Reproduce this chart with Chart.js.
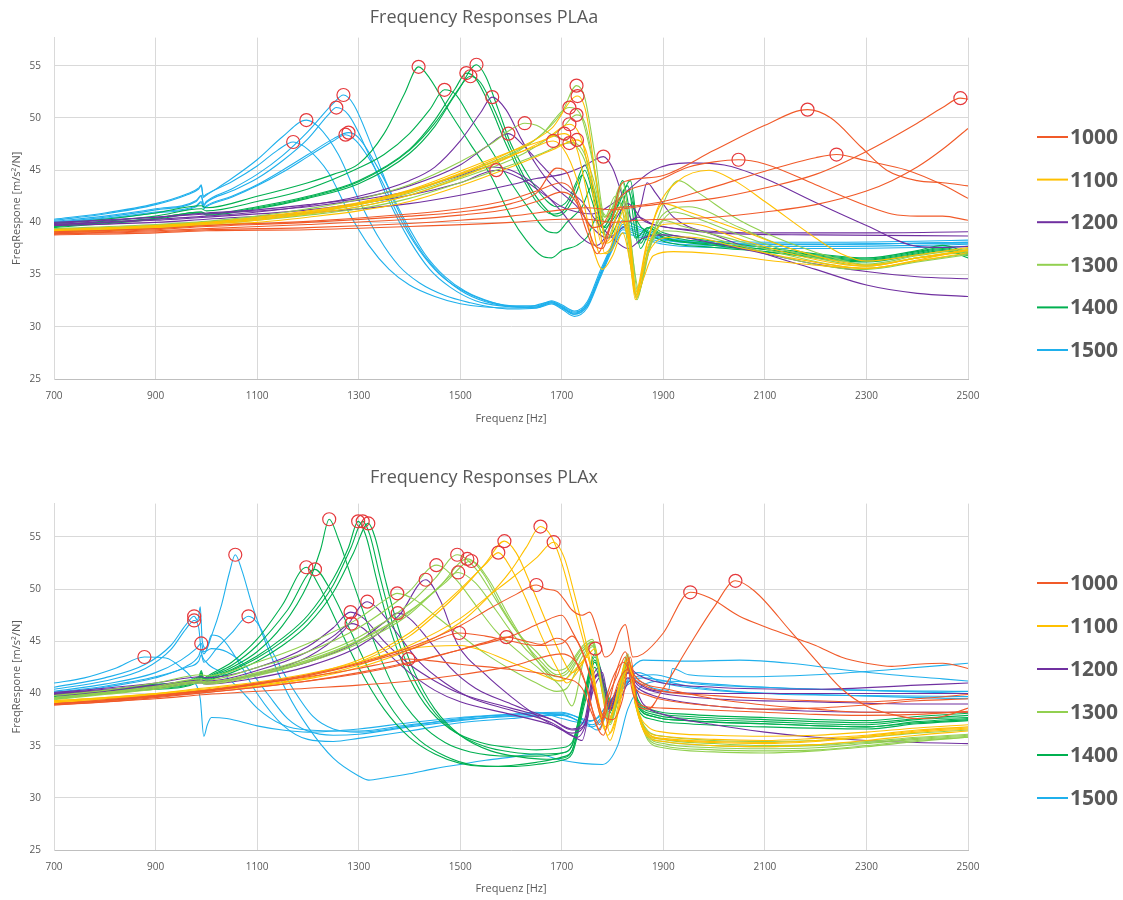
<!DOCTYPE html>
<html lang="de">
<head>
<meta charset="UTF-8">
<title>Frequency Responses PLAa / PLAx</title>
<script src="https://cdn.jsdelivr.net/npm/chart.js"></script>
<style>
  body { margin: 0; background: #fff; }
  .box { position: absolute; left: 0; width: 1123px; }
  #boxA { top: 0; height: 430px; }
  #boxB { top: 460px; height: 440px; }
</style>
</head>
<body>
<div class="box" id="boxA"><canvas id="chartA"></canvas></div>
<div class="box" id="boxB"><canvas id="chartB"></canvas></div>

<script>
// series names + Excel style colours
const seriesLabels = ['1000', '1100', '1200', '1300', '1400', '1500'];
const seriesColors = ['#F15A29', '#FFC000', '#7030A0', '#92D050', '#00B050', '#1FB0EC'];
const freqTicks = [700, 900, 1100, 1300, 1500, 1700, 1900, 2100, 2300, 2500];

// ---------- PLAa : [Hz, m/s²/N] ----------
const plaa1000 = [
  [[700,38.9],[900,39.1],[1000,39.3],[1200,39.5],[1400,39.9],[1500,40.2],[1600,40.6],[1700,41.2],[1750,41.4],[1800,41.2],[1850,41.5],[1900,41.8],[2000,42.3],[2100,43.3],[2200,44.6],[2300,46.8],[2400,49.5],[2450,51.0],[2485,51.9],[2500,51.8]],
  [[700,38.8],[900,39.0],[1000,39.2],[1200,39.3],[1400,39.6],[1600,40.0],[1700,40.3],[1750,40.3],[1800,40.0],[1850,40.2],[1900,40.3],[2000,40.5],[2100,41.0],[2200,41.7],[2300,43.0],[2350,44.0],[2400,45.3],[2450,47.0],[2500,49.0]],
  [[700,39.1],[900,39.4],[1000,39.7],[1200,40.1],[1400,40.8],[1500,41.3],[1600,42.2],[1650,43.0],[1700,43.8],[1725,42.8],[1745,40.5],[1765,37.8],[1780,37.5],[1800,40.5],[1815,43.5],[1830,44.0],[1900,44.5],[2000,46.9],[2100,49.3],[2184,50.8],[2230,50.0],[2290,47.2],[2340,45.0],[2400,44.0],[2450,43.8],[2500,43.5]],
  [[700,39.0],[900,39.3],[1000,39.6],[1200,40.0],[1400,40.6],[1500,41.0],[1600,41.8],[1650,42.8],[1690,45.2],[1710,44.8],[1730,42.0],[1750,39.0],[1770,37.0],[1790,39.0],[1810,42.0],[1830,43.0],[1880,43.8],[1950,45.3],[2000,45.8],[2048,46.0],[2100,45.6],[2200,43.6],[2300,41.6],[2350,40.8],[2400,40.6],[2450,40.6],[2500,40.2]],
  [[700,38.9],[900,39.2],[1000,39.4],[1200,39.8],[1400,40.3],[1500,40.7],[1600,41.3],[1650,42.0],[1700,42.9],[1720,42.5],[1740,41.0],[1760,39.5],[1780,39.8],[1800,41.2],[1830,41.5],[1900,42.0],[2000,43.4],[2100,44.9],[2200,46.2],[2241,46.5],[2300,45.9],[2380,45.0],[2450,43.6],[2500,42.3]]
];
const plaa1100 = [
  [[700,39.2],[900,39.6],[1000,39.9],[1100,40.3],[1200,40.9],[1300,41.7],[1400,42.9],[1500,44.6],[1600,46.4],[1650,47.3],[1683,47.8],[1710,46.5],[1740,42.5],[1765,37.0],[1780,35.5],[1800,36.8],[1820,39.0],[1835,36.0],[1845,32.6],[1860,34.5],[1880,36.8],[1920,37.2],[2000,37.0],[2100,36.4],[2200,35.9],[2300,35.6],[2400,36.4],[2500,37.4]],
  [[700,39.3],[900,39.7],[1000,40.0],[1100,40.5],[1200,41.1],[1300,41.9],[1400,43.1],[1500,44.9],[1600,46.8],[1660,47.8],[1705,48.5],[1730,47.0],[1755,41.5],[1775,37.0],[1795,37.5],[1815,40.5],[1832,38.0],[1845,33.2],[1865,37.5],[1890,41.5],[1930,44.0],[1990,45.0],[2040,44.0],[2100,42.0],[2200,38.5],[2250,37.0],[2300,36.3],[2400,36.9],[2500,37.6]],
  [[700,39.1],[900,39.5],[1000,39.8],[1100,40.2],[1200,40.8],[1300,41.5],[1400,42.6],[1500,44.3],[1600,46.3],[1670,48.0],[1715,49.4],[1740,47.8],[1760,43.0],[1778,38.0],[1795,38.5],[1815,41.5],[1832,38.5],[1846,33.0],[1868,38.0],[1900,41.8],[1950,41.0],[2050,39.3],[2150,37.5],[2250,36.2],[2300,35.9],[2400,36.6],[2500,37.3]],
  [[700,39.0],[900,39.4],[1000,39.7],[1100,40.0],[1200,40.5],[1300,41.1],[1400,42.0],[1500,43.5],[1600,45.3],[1680,46.9],[1730,47.9],[1750,46.5],[1770,41.0],[1785,37.0],[1800,37.5],[1820,40.0],[1835,37.5],[1847,33.4],[1870,37.0],[1900,38.5],[1950,38.6],[2050,37.6],[2150,36.6],[2250,35.8],[2300,35.6],[2400,36.3],[2500,37.1]],
  [[700,39.2],[900,39.6],[1000,39.9],[1100,40.4],[1200,41.0],[1300,41.8],[1400,43.0],[1500,44.7],[1600,46.8],[1680,49.0],[1731,52.1],[1748,50.5],[1768,44.0],[1788,38.0],[1805,38.8],[1822,41.2],[1836,37.8],[1846,32.8],[1866,37.2],[1900,39.8],[1950,39.9],[2050,38.4],[2150,37.0],[2250,36.0],[2300,35.8],[2400,36.6],[2500,37.4]]
];
const plaa1200 = [
  [[700,39.8],[900,40.3],[1000,40.6],[1100,41.0],[1200,41.6],[1300,42.5],[1400,44.0],[1450,45.3],[1500,47.8],[1540,50.5],[1563,52.0],[1590,50.8],[1620,48.0],[1650,45.5],[1680,43.6],[1700,42.8],[1730,41.5],[1760,39.5],[1790,38.5],[1820,39.5],[1850,40.5],[1880,39.8],[1950,39.3],[2100,39.0],[2300,39.0],[2500,39.1]],
  [[700,39.9],[900,40.5],[1000,40.9],[1100,41.2],[1200,41.7],[1300,42.3],[1400,43.5],[1500,45.5],[1550,47.2],[1595,48.5],[1620,47.6],[1660,45.5],[1700,43.5],[1740,42.0],[1770,40.0],[1800,38.5],[1830,37.5],[1860,38.5],[1900,38.8],[2000,38.0],[2100,37.0],[2200,36.0],[2300,35.3],[2400,34.8],[2500,34.6]],
  [[700,39.7],[900,40.0],[1000,40.3],[1200,40.9],[1400,41.8],[1500,42.6],[1600,43.6],[1650,44.2],[1700,44.6],[1740,45.3],[1765,46.0],[1782,46.3],[1800,45.2],[1820,42.5],[1840,40.2],[1855,41.5],[1868,43.8],[1885,42.8],[1920,40.5],[2000,38.8],[2100,37.0],[2200,35.5],[2300,34.0],[2400,33.2],[2500,32.9]],
  [[700,39.8],[900,40.2],[1000,40.5],[1200,41.2],[1400,42.6],[1500,43.8],[1571,45.0],[1620,44.2],[1670,42.5],[1700,41.5],[1730,41.0],[1760,40.8],[1800,41.8],[1840,43.5],[1880,45.0],[1950,45.7],[2020,45.5],[2100,44.2],[2200,41.9],[2300,39.7],[2400,37.7],[2450,37.6],[2500,37.7]],
  [[700,40.0],[900,40.5],[1000,40.8],[1200,41.5],[1400,43.0],[1500,44.5],[1560,45.3],[1600,45.0],[1650,43.5],[1700,41.0],[1740,38.5],[1770,37.8],[1800,39.8],[1830,41.8],[1860,40.2],[1900,39.6],[2000,39.0],[2200,38.8],[2500,38.7]]
];
const plaa1300 = [
  [[700,39.4],[900,39.8],[1000,40.1],[1100,40.6],[1200,41.3],[1300,42.2],[1400,43.6],[1500,45.8],[1560,47.5],[1600,48.9],[1627,49.5],[1650,49.3],[1680,48.4],[1710,47.8],[1740,47.0],[1760,44.5],[1785,40.5],[1805,42.5],[1820,41.0],[1835,36.0],[1848,32.6],[1865,36.0],[1890,40.5],[1930,44.0],[1970,42.8],[2050,40.2],[2150,38.0],[2250,36.4],[2300,35.9],[2400,36.6],[2500,37.3]],
  [[700,39.3],[900,39.7],[1000,40.0],[1100,40.5],[1200,41.0],[1300,41.8],[1400,43.0],[1500,44.6],[1600,46.6],[1650,48.0],[1700,50.5],[1729,53.1],[1745,52.0],[1765,46.5],[1785,40.5],[1800,41.5],[1815,43.5],[1830,39.0],[1845,33.0],[1865,36.5],[1890,39.5],[1920,41.0],[1960,40.5],[2050,38.8],[2150,37.2],[2250,36.1],[2300,35.8],[2400,36.6],[2500,37.2]],
  [[700,39.2],[900,39.6],[1000,39.9],[1100,40.3],[1200,40.8],[1300,41.5],[1400,42.6],[1500,44.2],[1600,46.0],[1650,47.3],[1700,49.0],[1729,50.3],[1745,49.6],[1765,45.0],[1785,40.0],[1805,41.8],[1820,42.5],[1835,38.0],[1848,32.8],[1870,37.0],[1900,40.2],[1940,39.6],[2050,38.2],[2150,36.8],[2250,35.8],[2300,35.6],[2400,36.3],[2500,37.0]],
  [[700,39.3],[900,39.7],[1000,40.0],[1100,40.4],[1200,40.9],[1300,41.7],[1400,42.8],[1500,44.4],[1600,46.4],[1660,48.4],[1715,51.0],[1735,50.5],[1760,46.0],[1780,41.0],[1800,40.5],[1820,43.8],[1838,37.5],[1850,33.2],[1870,37.5],[1900,40.8],[1950,41.5],[2050,39.5],[2150,37.5],[2250,36.3],[2300,36.0],[2400,36.8],[2500,37.5]],
  [[700,39.1],[900,39.5],[1000,39.8],[1100,40.2],[1200,40.7],[1300,41.3],[1400,42.3],[1500,43.8],[1600,45.5],[1660,46.6],[1715,47.6],[1740,46.5],[1765,43.0],[1790,38.5],[1810,41.0],[1825,42.0],[1840,36.5],[1852,33.5],[1875,37.8],[1900,39.2],[1950,39.0],[2050,37.8],[2150,36.5],[2250,35.6],[2300,35.5],[2400,36.2],[2500,36.9]]
];
const plaa1400 = [
  [[700,39.9],[800,40.3],[900,40.9],[990,41.6],[1000,41.4],[1100,42.5],[1200,43.8],[1250,44.6],[1300,45.6],[1350,48.5],[1390,52.3],[1418,54.9],[1440,53.8],[1480,50.5],[1520,47.5],[1560,44.5],[1600,40.5],[1630,38.3],[1660,36.8],[1680,36.6],[1700,37.3],[1730,37.8],[1750,38.6],[1770,40.5],[1790,38.5],[1810,40.0],[1830,43.0],[1850,40.0],[1870,39.0],[1900,38.2],[2000,37.6],[2100,37.2],[2200,36.7],[2300,36.3],[2400,37.0],[2450,37.4],[2500,36.6]],
  [[700,39.7],[900,40.6],[990,41.3],[1000,41.1],[1100,42.0],[1200,43.2],[1300,45.2],[1350,46.5],[1400,48.5],[1440,50.8],[1469,52.7],[1490,52.3],[1520,50.0],[1560,47.0],[1600,43.8],[1640,41.0],[1670,39.2],[1690,39.0],[1710,40.0],[1740,41.5],[1760,43.5],[1780,39.5],[1800,41.0],[1820,44.0],[1845,38.5],[1870,39.5],[1900,38.6],[2000,37.9],[2100,37.4],[2200,36.8],[2300,36.4],[2400,37.1],[2450,37.5],[2500,36.9]],
  [[700,39.6],[900,40.4],[990,41.0],[1000,40.8],[1100,41.5],[1200,42.5],[1300,44.0],[1400,47.0],[1450,49.8],[1490,52.8],[1512,54.3],[1530,53.8],[1560,51.0],[1590,47.5],[1620,44.5],[1650,42.0],[1680,40.8],[1700,41.0],[1720,42.5],[1740,44.5],[1760,42.0],[1780,39.0],[1800,40.5],[1830,43.5],[1850,38.0],[1870,39.5],[1900,38.8],[2000,38.0],[2100,37.4],[2200,36.9],[2300,36.5],[2400,37.2],[2450,37.6],[2500,37.0]],
  [[700,39.5],[900,40.3],[990,40.9],[1000,40.7],[1100,41.3],[1200,42.3],[1300,43.7],[1400,46.6],[1450,49.2],[1490,52.2],[1520,54.0],[1540,53.4],[1570,50.5],[1600,47.0],[1630,44.0],[1660,41.8],[1690,40.6],[1710,41.2],[1730,43.0],[1745,45.0],[1765,42.0],[1785,39.5],[1810,41.0],[1835,43.2],[1855,37.5],[1875,39.2],[1900,38.5],[2000,37.8],[2100,37.2],[2200,36.6],[2300,36.2],[2400,36.9],[2450,37.3],[2500,36.8]],
  [[700,39.6],[900,40.4],[990,41.0],[1000,40.8],[1100,41.4],[1200,42.4],[1300,43.9],[1400,46.9],[1450,49.5],[1500,53.0],[1532,55.1],[1550,54.0],[1575,50.8],[1600,47.5],[1630,44.8],[1660,42.6],[1690,41.5],[1710,42.0],[1730,44.0],[1745,45.5],[1765,42.5],[1785,40.0],[1810,41.5],[1835,44.0],[1855,38.0],[1875,39.6],[1900,39.0],[2000,38.2],[2100,37.6],[2200,37.0],[2300,36.6],[2400,37.3],[2450,37.8],[2500,37.1]]
];
const plaa1500 = [
  [[700,40.3],[800,40.9],[900,41.8],[960,42.7],[985,43.3],[990,43.6],[994,42.5],[1000,42.7],[1050,43.9],[1100,45.4],[1140,46.9],[1171,47.7],[1200,47.0],[1240,44.8],[1280,41.0],[1320,37.8],[1360,35.5],[1400,34.0],[1450,32.9],[1500,32.2],[1550,31.9],[1600,31.8],[1650,31.9],[1680,32.4],[1700,31.9],[1725,31.3],[1750,32.2],[1775,35.0],[1800,37.8],[1820,39.6],[1850,39.2],[1900,38.4],[2000,38.0],[2200,37.9],[2400,38.0],[2500,38.1]],
  [[700,40.2],[800,40.8],[900,41.7],[960,42.6],[985,43.2],[990,43.5],[994,42.4],[1000,42.6],[1050,44.2],[1100,46.0],[1150,48.2],[1197,49.8],[1220,49.2],[1260,46.5],[1300,42.2],[1340,38.5],[1380,35.8],[1420,34.2],[1470,33.0],[1520,32.3],[1560,31.9],[1600,31.7],[1650,31.8],[1680,32.3],[1700,31.8],[1725,31.2],[1750,32.0],[1775,34.8],[1800,37.6],[1820,39.3],[1850,38.8],[1900,38.1],[2000,37.8],[2200,37.7],[2400,37.8],[2500,37.9]],
  [[700,40.0],[800,40.5],[900,41.2],[980,42.0],[990,42.5],[995,41.6],[1000,41.9],[1050,43.0],[1100,44.2],[1150,45.9],[1200,48.0],[1240,50.3],[1256,51.0],[1280,50.3],[1320,46.5],[1360,42.0],[1400,38.3],[1440,35.5],[1480,33.8],[1530,32.5],[1580,32.0],[1630,31.9],[1680,32.4],[1700,32.0],[1725,31.4],[1750,32.2],[1775,35.0],[1800,37.9],[1820,39.8],[1850,39.4],[1900,38.5],[2000,38.2],[2200,38.1],[2400,38.2],[2500,38.3]],
  [[700,40.1],[800,40.6],[900,41.3],[980,42.1],[990,42.6],[995,41.7],[1000,42.0],[1050,43.2],[1100,44.6],[1150,46.4],[1200,48.7],[1250,51.4],[1270,52.2],[1290,51.3],[1330,46.8],[1370,42.0],[1410,38.2],[1450,35.6],[1500,33.5],[1550,32.4],[1600,32.0],[1650,32.0],[1680,32.5],[1700,32.1],[1725,31.5],[1750,32.4],[1775,35.3],[1800,38.0],[1820,40.2],[1850,39.6],[1900,38.6],[2000,38.0],[2200,37.9],[2400,38.0],[2500,38.1]],
  [[700,39.9],[800,40.3],[900,40.9],[980,41.5],[990,41.9],[995,41.3],[1000,41.5],[1050,42.4],[1100,43.5],[1150,44.8],[1200,46.3],[1250,47.8],[1274,48.4],[1295,47.8],[1340,44.5],[1380,40.5],[1420,37.3],[1460,35.0],[1500,33.6],[1550,32.5],[1600,32.0],[1650,31.8],[1680,32.2],[1700,31.7],[1725,31.0],[1750,31.8],[1775,34.6],[1800,37.4],[1820,39.0],[1850,38.6],[1900,37.9],[2000,37.6],[2200,37.5],[2400,37.6],[2500,37.7]],
  [[700,40.0],[800,40.4],[900,41.0],[980,41.6],[990,42.0],[995,41.4],[1000,41.6],[1050,42.5],[1100,43.6],[1150,45.0],[1200,46.5],[1250,48.0],[1280,48.6],[1300,48.1],[1345,44.6],[1390,40.3],[1430,37.0],[1470,34.8],[1510,33.4],[1560,32.4],[1610,31.9],[1650,31.9],[1680,32.3],[1700,31.9],[1725,31.2],[1750,32.0],[1775,34.8],[1800,37.6],[1820,39.5],[1850,39.0],[1900,38.3],[2000,38.0],[2200,37.9],[2400,38.0],[2500,38.0]]
];
// marked resonance peaks
const plaaPeaks = [
  [1171,47.7],[1197,49.8],[1256,51.0],[1270,52.2],[1274,48.4],[1280,48.6],
  [1418,54.9],[1469,52.7],[1512,54.3],[1520,54.0],[1532,55.1],
  [1563,52.0],[1595,48.5],[1782,46.3],[1571,45.0],
  [1627,49.5],[1729,53.1],[1729,50.3],[1715,51.0],[1715,47.6],
  [1683,47.8],[1705,48.5],[1715,49.4],[1730,47.9],[1731,52.1],
  [2048,46.0],[2184,50.8],[2241,46.5],[2485,51.9]
];

// ---------- PLAx ----------
const plax1000 = [
  [[700,39.0],[800,39.4],[900,39.8],[1000,40.3],[1100,40.9],[1200,41.6],[1300,42.4],[1360,43.0],[1398,43.3],[1450,43.1],[1500,42.8],[1600,42.3],[1700,41.5],[1740,40.5],[1760,38.0],[1775,36.5],[1790,39.5],[1810,41.8],[1825,43.5],[1840,40.0],[1860,38.8],[1900,38.6],[2000,38.4],[2100,38.2],[2200,38.0],[2300,37.9],[2400,38.0],[2500,38.3]],
  [[700,39.0],[800,39.3],[900,39.7],[1000,40.2],[1100,40.9],[1200,41.7],[1300,42.8],[1400,44.2],[1450,45.1],[1498,45.8],[1550,45.5],[1600,45.0],[1650,44.6],[1700,44.8],[1720,45.5],[1745,43.5],[1765,40.0],[1780,37.5],[1795,39.5],[1810,42.5],[1825,44.0],[1840,42.0],[1860,41.0],[1900,40.5],[2000,39.5],[2100,38.9],[2200,38.5],[2300,38.2],[2400,38.2],[2500,38.2]],
  [[700,38.9],[800,39.2],[900,39.6],[1000,40.1],[1100,40.6],[1200,41.2],[1300,41.9],[1400,42.9],[1500,44.2],[1550,44.9],[1591,45.4],[1630,45.0],[1660,44.7],[1690,45.3],[1710,44.8],[1730,42.8],[1750,40.5],[1768,37.0],[1782,36.0],[1798,39.0],[1815,41.5],[1830,42.3],[1845,40.5],[1870,39.8],[1900,39.4],[2000,38.8],[2100,38.5],[2200,38.6],[2300,38.9],[2400,39.3],[2500,39.5]],
  [[700,39.0],[800,39.3],[900,39.8],[1000,40.3],[1100,41.0],[1200,41.8],[1300,42.9],[1400,44.4],[1500,46.5],[1560,48.2],[1610,49.5],[1650,50.4],[1670,50.0],[1690,49.8],[1705,49.0],[1720,48.0],[1740,47.5],[1755,47.8],[1770,46.0],[1785,43.5],[1800,44.0],[1815,46.0],[1825,46.6],[1840,43.5],[1860,43.8],[1900,45.8],[1953,49.7],[1990,49.2],[2050,47.4],[2100,46.4],[2150,45.5],[2200,44.6],[2250,43.5],[2300,42.9],[2350,42.6],[2400,42.8],[2450,42.9],[2500,42.4]],
  [[700,39.0],[800,39.3],[900,39.7],[1000,40.1],[1100,40.6],[1200,41.2],[1300,42.0],[1400,43.0],[1500,44.2],[1600,45.5],[1660,46.8],[1700,47.5],[1720,46.0],[1740,44.0],[1760,41.0],[1780,38.0],[1800,37.5],[1820,39.5],[1835,43.5],[1850,38.8],[1870,38.5],[1900,40.5],[1950,44.5],[2000,48.3],[2042,50.8],[2080,49.8],[2150,46.0],[2200,43.2],[2250,40.5],[2300,38.8],[2350,38.0],[2400,37.6],[2450,37.8],[2500,38.6]],
  [[700,38.9],[900,39.5],[1000,39.9],[1200,40.5],[1300,40.8],[1400,41.2],[1500,41.8],[1600,42.6],[1700,43.8],[1740,42.0],[1760,38.5],[1775,37.0],[1790,40.0],[1805,42.0],[1822,43.0],[1840,41.5],[1870,40.6],[1900,40.2],[2000,39.8],[2100,39.5],[2200,39.3],[2300,39.2],[2400,39.5],[2500,39.9]]
];
const plax1100 = [
  [[700,39.3],[800,39.6],[900,40.0],[990,40.4],[1100,41.0],[1200,41.8],[1300,43.2],[1400,45.8],[1450,47.8],[1500,50.0],[1550,52.4],[1575,53.5],[1600,52.0],[1630,49.0],[1660,45.5],[1690,42.5],[1710,41.0],[1730,42.0],[1750,43.5],[1770,39.0],[1785,36.5],[1800,38.0],[1815,41.0],[1830,43.2],[1845,39.0],[1865,36.2],[1900,35.6],[2000,35.3],[2100,35.2],[2200,35.4],[2300,35.8],[2400,36.3],[2500,36.6]],
  [[700,39.2],[800,39.5],[900,39.9],[990,40.3],[1100,40.9],[1200,41.7],[1300,43.0],[1400,45.5],[1450,47.5],[1500,49.8],[1550,52.5],[1587,54.6],[1610,53.5],[1640,50.3],[1670,46.8],[1700,43.5],[1720,42.0],[1740,42.8],[1755,44.0],[1770,39.5],[1785,36.8],[1800,38.3],[1815,41.3],[1830,43.4],[1845,39.2],[1865,36.5],[1900,35.9],[2000,35.6],[2100,35.5],[2200,35.7],[2300,36.0],[2400,36.5],[2500,36.8]],
  [[700,39.1],[800,39.4],[900,39.8],[990,40.2],[1100,40.7],[1200,41.4],[1300,42.5],[1400,44.2],[1500,46.8],[1550,49.0],[1600,51.8],[1630,54.0],[1658,56.0],[1680,55.0],[1700,52.5],[1720,49.0],[1740,45.5],[1760,42.0],[1775,38.5],[1790,36.0],[1805,37.5],[1818,40.8],[1832,43.0],[1847,38.8],[1866,36.0],[1900,35.4],[2000,35.0],[2100,34.9],[2200,35.1],[2300,35.5],[2400,36.0],[2500,36.4]],
  [[700,39.2],[800,39.5],[900,39.9],[990,40.3],[1100,40.8],[1200,41.5],[1300,42.7],[1400,44.6],[1500,47.2],[1560,49.5],[1600,51.0],[1650,53.0],[1684,54.5],[1705,53.0],[1725,49.5],[1745,45.5],[1765,41.0],[1780,37.5],[1795,35.5],[1808,37.5],[1820,41.0],[1834,43.0],[1848,38.5],[1868,36.2],[1900,35.7],[2000,35.4],[2100,35.3],[2200,35.5],[2300,35.9],[2400,36.4],[2500,36.7]],
  [[700,39.3],[800,39.6],[900,40.0],[990,40.5],[1100,41.1],[1200,41.9],[1300,43.0],[1400,44.3],[1500,44.6],[1550,44.0],[1600,43.0],[1650,42.0],[1700,41.2],[1730,42.5],[1750,43.6],[1766,44.3],[1780,40.0],[1795,36.2],[1810,38.0],[1825,41.5],[1835,42.8],[1850,38.5],[1870,36.8],[1900,36.3],[2000,36.0],[2100,35.9],[2200,36.0],[2300,36.3],[2400,36.7],[2500,37.0]]
];
const plax1200 = [
  [[700,40.1],[800,40.5],[900,41.0],[990,41.6],[1000,41.5],[1100,42.5],[1200,44.5],[1250,46.3],[1284,47.8],[1310,47.2],[1350,45.0],[1400,42.8],[1450,41.2],[1500,40.0],[1600,38.6],[1680,37.5],[1720,36.6],[1745,37.5],[1760,41.5],[1775,42.5],[1790,39.0],[1810,40.5],[1830,42.5],[1850,41.8],[1880,41.2],[2000,40.6],[2200,40.4],[2400,40.8],[2500,41.0]],
  [[700,40.0],[800,40.4],[900,40.8],[990,41.3],[1000,41.2],[1100,42.2],[1200,44.0],[1250,45.5],[1286,46.7],[1310,46.2],[1350,44.2],[1400,42.0],[1450,40.3],[1500,39.2],[1600,38.0],[1680,37.0],[1720,36.2],[1745,37.0],[1760,40.8],[1775,41.8],[1790,38.5],[1810,40.0],[1830,42.0],[1850,40.8],[1880,40.2],[2000,39.5],[2200,39.2],[2400,39.0],[2500,39.0]],
  [[700,39.9],[800,40.2],[900,40.6],[990,41.1],[1000,41.0],[1100,41.9],[1200,43.5],[1270,46.0],[1317,48.8],[1340,48.0],[1380,45.5],[1420,43.0],[1470,41.0],[1520,39.6],[1600,38.4],[1680,37.2],[1720,36.0],[1740,35.5],[1760,40.0],[1775,41.5],[1790,38.2],[1810,39.8],[1830,41.5],[1850,40.5],[1880,39.8],[2000,38.8],[2200,38.3],[2400,38.2],[2500,38.2]],
  [[700,40.0],[800,40.3],[900,40.7],[990,41.2],[1000,41.1],[1100,41.8],[1200,43.0],[1300,45.0],[1350,46.8],[1377,47.7],[1400,47.2],[1440,45.0],[1480,42.5],[1530,40.5],[1600,39.0],[1680,37.5],[1720,36.5],[1745,37.0],[1760,41.0],[1775,42.0],[1790,38.8],[1810,40.2],[1830,42.0],[1850,41.0],[1880,40.3],[2000,40.0],[2200,40.0],[2400,40.0],[2500,40.0]],
  [[700,39.8],[800,40.1],[900,40.5],[990,41.0],[1000,40.9],[1100,41.5],[1200,42.6],[1300,44.5],[1380,47.5],[1432,50.9],[1460,49.0],[1494,44.8],[1550,41.8],[1600,39.7],[1650,37.9],[1700,36.5],[1730,35.8],[1750,37.5],[1765,41.5],[1780,42.0],[1795,38.5],[1815,39.5],[1835,41.2],[1860,39.0],[1900,38.0],[2000,37.0],[2100,36.3],[2200,35.8],[2300,35.5],[2400,35.3],[2500,35.2]]
];
const plax1300 = [
  [[700,39.8],[800,40.3],[900,41.0],[990,41.8],[1000,41.7],[1100,43.0],[1200,44.8],[1300,47.2],[1350,48.9],[1376,49.6],[1410,49.0],[1450,47.5],[1500,45.6],[1550,43.8],[1600,42.3],[1650,41.0],[1690,40.2],[1710,40.5],[1740,43.5],[1760,44.8],[1780,40.0],[1795,37.0],[1815,40.5],[1830,43.3],[1845,39.0],[1870,36.2],[1900,35.6],[2000,35.2],[2100,35.0],[2200,35.1],[2300,35.4],[2400,35.8],[2500,36.1]],
  [[700,39.6],[800,40.1],[900,40.7],[990,41.4],[1000,41.3],[1100,42.5],[1200,44.0],[1300,46.3],[1400,49.8],[1453,52.3],[1490,51.0],[1530,48.5],[1570,46.0],[1610,44.2],[1650,42.6],[1690,41.2],[1710,41.5],[1740,44.0],[1760,45.0],[1780,40.3],[1795,37.3],[1815,40.8],[1830,43.5],[1845,39.3],[1870,35.9],[1900,35.2],[2000,34.8],[2100,34.7],[2200,34.8],[2300,35.2],[2400,35.6],[2500,35.9]],
  [[700,39.5],[800,40.0],[900,40.6],[990,41.2],[1000,41.1],[1100,42.0],[1200,43.4],[1300,45.4],[1400,48.6],[1450,51.0],[1494,53.3],[1530,52.0],[1570,49.0],[1610,46.0],[1650,44.0],[1690,42.2],[1710,42.5],[1740,44.5],[1760,45.2],[1780,40.8],[1795,37.8],[1815,41.2],[1830,43.8],[1845,39.5],[1870,35.5],[1900,34.8],[2000,34.4],[2100,34.3],[2200,34.5],[2300,34.9],[2400,35.4],[2500,35.8]],
  [[700,39.4],[800,39.9],[900,40.4],[990,41.0],[1000,40.9],[1100,41.7],[1200,43.0],[1300,44.8],[1400,47.6],[1450,49.8],[1496,51.6],[1530,50.6],[1570,48.0],[1610,45.3],[1650,43.2],[1690,41.6],[1710,41.9],[1740,44.0],[1760,44.6],[1780,40.4],[1795,37.5],[1815,40.9],[1830,43.4],[1845,39.1],[1870,36.4],[1900,35.9],[2000,35.5],[2100,35.4],[2200,35.5],[2300,35.8],[2400,36.2],[2500,36.5]],
  [[700,39.5],[800,40.0],[900,40.5],[990,41.1],[1000,41.0],[1100,41.8],[1200,43.1],[1300,45.0],[1400,47.8],[1460,50.3],[1514,52.9],[1545,51.5],[1585,48.0],[1625,45.0],[1660,43.0],[1690,41.8],[1710,42.2],[1740,44.3],[1760,44.9],[1780,40.6],[1795,37.6],[1815,41.0],[1830,43.6],[1845,39.3],[1870,36.0],[1900,35.4],[2000,35.0],[2100,34.9],[2200,35.0],[2300,35.3],[2400,35.7],[2500,36.0]],
  [[700,39.6],[800,40.1],[900,40.6],[990,41.2],[1000,41.1],[1100,41.9],[1200,43.2],[1300,45.1],[1400,47.9],[1470,50.6],[1522,52.7],[1555,51.0],[1595,47.5],[1635,44.3],[1670,42.0],[1700,40.5],[1720,38.8],[1745,43.5],[1762,44.5],[1780,40.2],[1795,37.2],[1815,40.6],[1830,43.2],[1845,38.9],[1870,35.7],[1900,35.0],[2000,34.6],[2100,34.5],[2200,34.6],[2300,35.0],[2400,35.5],[2500,35.8]]
];
const plax1400 = [
  [[700,39.9],[800,40.3],[900,40.9],[985,41.6],[990,42.2],[995,41.4],[1000,41.6],[1050,43.0],[1100,45.2],[1150,48.5],[1197,52.1],[1220,50.5],[1260,46.5],[1300,42.5],[1350,38.5],[1400,35.8],[1450,34.2],[1500,33.3],[1550,33.0],[1600,33.1],[1650,33.4],[1700,33.9],[1720,34.5],[1745,39.5],[1765,43.0],[1785,40.0],[1800,38.3],[1815,40.5],[1830,42.8],[1850,38.8],[1880,37.8],[1950,37.4],[2100,37.1],[2300,36.8],[2400,37.3],[2500,37.6]],
  [[700,39.8],[800,40.2],[900,40.8],[985,41.5],[990,42.0],[995,41.3],[1000,41.5],[1050,42.7],[1100,44.6],[1160,48.0],[1214,51.9],[1240,50.3],[1280,46.4],[1320,42.3],[1370,38.2],[1420,35.5],[1470,34.0],[1520,33.2],[1600,33.0],[1650,33.2],[1700,33.6],[1720,34.2],[1745,39.0],[1765,42.5],[1785,39.5],[1800,38.0],[1815,40.2],[1830,42.5],[1850,38.5],[1880,37.5],[1950,37.1],[2100,36.8],[2300,36.6],[2400,37.1],[2500,37.4]],
  [[700,39.7],[800,40.1],[900,40.7],[985,41.4],[990,41.9],[995,41.2],[1000,41.4],[1050,42.5],[1100,44.0],[1150,46.5],[1200,50.5],[1225,53.8],[1242,56.7],[1260,54.8],[1290,50.5],[1330,45.0],[1370,40.5],[1420,37.2],[1470,35.3],[1520,34.4],[1600,34.0],[1650,34.0],[1700,34.3],[1720,35.0],[1745,40.0],[1765,43.5],[1785,40.5],[1800,38.8],[1815,41.0],[1830,43.2],[1850,39.2],[1880,38.2],[1950,37.8],[2100,37.5],[2300,37.2],[2400,37.6],[2500,37.9]],
  [[700,39.6],[800,40.0],[900,40.6],[985,41.3],[990,41.8],[995,41.1],[1000,41.3],[1050,42.3],[1100,43.6],[1150,45.3],[1200,47.5],[1250,51.0],[1280,54.0],[1299,56.5],[1315,55.0],[1335,51.0],[1360,46.5],[1390,42.5],[1430,39.0],[1480,36.6],[1540,35.3],[1600,34.8],[1650,34.6],[1700,34.8],[1720,35.3],[1745,40.2],[1765,43.8],[1785,40.8],[1800,39.0],[1815,41.2],[1830,43.3],[1850,39.4],[1880,38.4],[1950,38.0],[2100,37.7],[2300,37.4],[2400,37.8],[2500,38.1]],
  [[700,39.5],[900,40.5],[985,41.2],[990,41.7],[995,41.0],[1000,41.2],[1050,42.2],[1100,43.4],[1150,45.0],[1200,47.1],[1250,50.4],[1285,54.0],[1308,56.5],[1322,55.2],[1342,51.2],[1368,46.5],[1400,42.3],[1440,38.8],[1490,36.3],[1550,34.9],[1600,34.4],[1650,34.2],[1700,34.3],[1720,35.0],[1745,39.8],[1765,43.2],[1785,40.2],[1800,38.6],[1815,40.8],[1830,43.0],[1850,39.0],[1880,38.0],[1950,37.6],[2100,37.3],[2300,37.0],[2400,37.5],[2500,37.7]],
  [[700,39.5],[900,40.4],[985,41.1],[990,41.6],[995,40.9],[1000,41.1],[1050,42.0],[1100,43.1],[1150,44.6],[1200,46.6],[1250,49.7],[1290,53.5],[1319,56.3],[1332,55.0],[1352,51.0],[1378,46.3],[1410,42.0],[1450,38.5],[1500,36.0],[1560,34.5],[1620,33.9],[1670,33.7],[1700,33.8],[1720,34.5],[1745,39.5],[1765,43.0],[1785,40.0],[1800,38.4],[1815,40.6],[1830,42.8],[1850,38.8],[1880,37.8],[1950,37.4],[2100,37.1],[2300,36.8],[2400,37.2],[2500,37.5]]
];
const plax1500 = [
  [[700,41.0],[760,41.5],[820,42.4],[878,43.5],[920,43.4],[950,42.5],[975,41.2],[988,39.5],[995,35.9],[1002,37.0],[1010,37.7],[1040,37.6],[1100,36.9],[1150,36.5],[1200,36.3],[1300,36.6],[1400,37.2],[1500,37.7],[1600,38.0],[1700,38.2],[1740,37.5],[1770,36.5],[1800,39.5],[1830,42.0],[1860,43.2],[1950,43.1],[2050,43.2],[2150,42.9],[2250,42.3],[2350,41.8],[2450,41.4],[2500,41.2]],
  [[700,40.6],[800,41.5],[880,42.8],[930,44.6],[960,46.6],[976,47.4],[983,47.0],[988,48.3],[992,45.0],[1000,44.3],[1010,45.6],[1030,45.3],[1070,42.5],[1100,40.0],[1150,37.0],[1200,35.6],[1250,35.4],[1300,35.7],[1400,36.4],[1500,37.2],[1600,37.6],[1700,38.0],[1760,36.8],[1800,39.0],[1840,41.5],[1880,41.8],[1950,41.0],[2100,40.6],[2300,40.3],[2500,40.2]],
  [[700,40.4],[800,41.2],[880,42.4],[930,44.2],[960,46.2],[976,47.0],[985,46.3],[990,44.0],[1000,43.0],[1030,42.0],[1070,40.2],[1100,38.6],[1150,37.0],[1200,36.5],[1300,36.4],[1400,37.0],[1500,37.5],[1600,37.8],[1700,37.9],[1760,37.0],[1800,39.3],[1850,42.0],[1900,41.0],[2000,40.3],[2200,39.9],[2400,39.6],[2500,39.5]],
  [[700,40.2],[800,40.9],[900,42.0],[950,43.2],[980,44.3],[990,44.8],[995,44.0],[1010,44.3],[1040,44.0],[1080,42.5],[1120,40.0],[1160,37.6],[1200,36.4],[1250,36.0],[1300,36.1],[1400,36.8],[1500,37.4],[1600,37.9],[1700,38.1],[1760,37.4],[1800,39.6],[1850,41.2],[1880,40.5],[1910,40.3],[1918,42.4],[1950,41.8],[2050,41.6],[2200,41.8],[2350,42.3],[2500,42.9]],
  [[700,40.0],[800,40.6],[900,41.5],[960,42.6],[985,43.6],[990,44.2],[995,43.8],[1010,45.5],[1030,48.5],[1045,51.5],[1057,53.3],[1070,51.8],[1090,48.5],[1120,44.5],[1160,40.0],[1200,36.8],[1250,33.8],[1300,32.1],[1320,31.7],[1350,31.9],[1400,32.3],[1450,32.8],[1500,33.2],[1550,33.6],[1600,33.9],[1650,34.2],[1700,33.6],[1740,33.3],[1780,33.2],[1810,35.0],[1830,38.5],[1860,40.8],[1900,41.2],[2000,40.9],[2100,40.6],[2200,40.4],[2300,40.3],[2500,40.0]],
  [[700,40.1],[800,40.7],[900,41.6],[960,42.5],[985,43.1],[990,43.7],[995,43.0],[1020,44.3],[1050,45.8],[1083,47.4],[1100,46.8],[1130,44.0],[1170,40.5],[1210,37.8],[1250,36.6],[1300,36.3],[1400,36.9],[1500,37.6],[1600,38.0],[1650,38.2],[1700,37.6],[1740,37.2],[1780,38.0],[1820,40.8],[1860,41.5],[1950,40.7],[2100,40.0],[2300,39.8],[2500,39.7]]
];
const plaxPeaks = [
  [878,43.5],[976,47.4],[976,47.0],[990,44.8],[1057,53.3],[1083,47.4],
  [1197,52.1],[1214,51.9],[1242,56.7],[1299,56.5],[1308,56.5],[1319,56.3],
  [1376,49.6],[1453,52.3],[1494,53.3],[1496,51.6],[1514,52.9],[1522,52.7],
  [1284,47.8],[1286,46.7],[1317,48.8],[1377,47.7],[1432,50.9],
  [1575,53.5],[1587,54.6],[1658,56.0],[1684,54.5],[1766,44.3],
  [1398,43.3],[1498,45.8],[1591,45.4],[1650,50.4],[1953,49.7],[2042,50.8]
];

const FONT = '"Open Sans", "Liberation Sans", sans-serif';
const GREY = '#595959';

// legend drawn at the right, beside the plot
const sideLegend = {
  id: 'sideLegend',
  afterDraw(chart, args, opts) {
    const ctx = chart.ctx;
    ctx.save();
    ctx.font = 'bold 21px ' + FONT;
    ctx.textBaseline = 'middle';
    seriesLabels.forEach((lab, i) => {
      const y = opts.top + i * opts.step;
      ctx.strokeStyle = seriesColors[i];
      ctx.lineWidth = 2;
      ctx.beginPath();
      ctx.moveTo(opts.x, y);
      ctx.lineTo(opts.x + 31, y);
      ctx.stroke();
      ctx.fillStyle = GREY;
      ctx.fillText(lab, opts.x + 33, y + 1);
    });
    ctx.restore();
  }
};

const makeChart = (canvasId, title, groups, peaks, cfg) => {
  const datasets = [{
    type: 'scatter',
    data: peaks.map(([x, y]) => ({ x, y })),
    pointRadius: 6.5,
    pointBorderColor: '#E5383B',
    pointBorderWidth: 1.2,
    pointBackgroundColor: 'rgba(0,0,0,0)',
    showLine: false
  }];
  // drawing order: first in the list ends up on top
  [0, 1, 3, 2, 4, 5].forEach(g => {
    groups[g].forEach(curve => {
      datasets.push({
        label: seriesLabels[g],
        data: curve.map(([x, y]) => ({ x, y })),
        borderColor: seriesColors[g],
        borderWidth: 1.1,
        pointRadius: 0,
        fill: false,
        cubicInterpolationMode: 'monotone'
      });
    });
  });

  return new Chart(document.getElementById(canvasId), {
    type: 'line',
    data: { datasets },
    plugins: [sideLegend],
    options: {
      responsive: true,
      maintainAspectRatio: false,
      animation: false,
      events: [],
      layout: { padding: { left: 0, right: 155, top: 0, bottom: 0 } },
      plugins: {
        legend: { display: false },
        tooltip: { enabled: false },
        title: {
          display: true,
          text: title,
          color: GREY,
          font: { family: FONT, size: 18, weight: 'normal' },
          padding: cfg.titlePad
        },
        sideLegend: cfg.legend
      },
      scales: {
        x: {
          type: 'linear',
          min: 700,
          max: 2500,
          afterBuildTicks: s => { s.ticks = freqTicks.map(v => ({ value: v })); },
          afterFit: s => { s.height = cfg.xAxisH; },
          ticks: {
            color: GREY,
            font: { family: FONT, size: 10 },
            padding: 11,
            maxRotation: 0,
            callback: v => String(v)
          },
          grid: { color: '#D9D9D9', drawTicks: false },
          border: { color: '#BFBFBF' },
          title: {
            display: true,
            text: 'Frequenz [Hz]',
            color: GREY,
            font: { family: FONT, size: 11 },
            padding: { top: 0, bottom: 5 }
          }
        },
        y: {
          min: 25,
          max: cfg.yMax,
          afterBuildTicks: s => { s.ticks = s.ticks.filter(t => t.value % 5 === 0); },
          afterFit: s => { s.width = 54; },
          ticks: { stepSize: 5, color: GREY, font: { family: FONT, size: 10 }, padding: 13 },
          grid: { color: '#D9D9D9', drawTicks: false },
          border: { color: '#D9D9D9' },
          title: {
            display: true,
            text: 'FreqRespone [m/s²/N]',
            color: GREY,
            font: { family: FONT, size: 11 },
            padding: { top: 10, bottom: 0 }
          }
        }
      }
    }
  });
};

makeChart('chartA', 'Frequency Responses PLAa',
  [plaa1000, plaa1100, plaa1200, plaa1300, plaa1400, plaa1500], plaaPeaks,
  { yMax: 57.7, xAxisH: 51, titlePad: { top: 7, bottom: 9 }, legend: { x: 1037, top: 137, step: 42.6 } });

makeChart('chartB', 'Frequency Responses PLAx',
  [plax1000, plax1100, plax1200, plax1300, plax1400, plax1500], plaxPeaks,
  { yMax: 58.2, xAxisH: 50, titlePad: { top: 7, bottom: 15 }, legend: { x: 1037, top: 123, step: 43 } });
</script>
</body>
</html>
